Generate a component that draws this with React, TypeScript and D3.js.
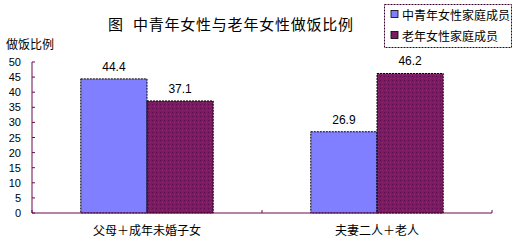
import React from "react";
import * as d3 from "d3";

const categories = ["父母＋成年未婚子女", "夫妻二人＋老人"];
const seriesNames = ["中青年女性家庭成员", "老年女性家庭成员"];
const youngValues = [44.4, 26.9];
const oldValues = [37.1, 46.2];
const yTicks = [0, 5, 10, 15, 20, 25, 30, 35, 40, 45, 50];
const titleMark = "图";
const titleText = "中青年女性与老年女性做饭比例";
const yAxisTitle = "做饭比例";

const W = 513;
const H = 247;
const plot = { left: 32, right: 492, top: 62, bottom: 213 };
const colors = ["#7f7fff", "#7b1b60"];
const axisColor = "#6a0a50";
const cjk = "'Noto Sans CJK SC', 'Noto Sans', sans-serif";
const num = "'Liberation Sans', Arial, sans-serif";

export default function App() {
  const x = d3.scaleBand<string>().domain(categories).range([plot.left, plot.right]).paddingInner(0).paddingOuter(0);
  const xs = d3.scaleBand<string>().domain(seriesNames).range([0, x.bandwidth()]).paddingInner(0).paddingOuter(0.737);
  const y = d3.scaleLinear().domain([0, 50]).range([plot.bottom, plot.top]);
  const series = [youngValues, oldValues];
  const xTickPos = [...categories.map((c) => x(c) as number), plot.right];

  return (
    <svg width={W} height={H} style={{ position: "absolute", left: 0, top: 0, background: "#fff" }}>
      <defs>
        <pattern id="dots" width="4" height="4" patternUnits="userSpaceOnUse">
          <rect width="4" height="4" fill={colors[1]} />
          <rect x="0" y="0" width="1" height="1" fill="#5c0a52" />
          <rect x="2" y="2" width="1" height="1" fill="#8e2a70" />
        </pattern>
      </defs>
      {/* title */}
      <text x={108} y={23} dominantBaseline="central" fontFamily={cjk} fontSize={15} fill="#000">{titleMark}</text>
      <text x={133} y={23} dominantBaseline="central" fontFamily={cjk} fontSize={15} fill="#000" textLength={220}>{titleText}</text>
      {/* y axis title */}
      <text x={6} y={43} dominantBaseline="central" fontFamily={cjk} fontSize={12} fill="#000">{yAxisTitle}</text>
      {/* bars */}
      {categories.map((c, ci) =>
        seriesNames.map((s, si) => {
          const v = series[si][ci];
          const bx = (x(c) as number) + (xs(s) as number);
          return (
            <g key={c + s}>
              <rect x={bx} y={y(v)} width={xs.bandwidth()} height={y(0) - y(v)}
                fill={si === 0 ? colors[0] : "url(#dots)"} stroke="#000" strokeWidth={1} strokeDasharray="2,1" />
              <text x={bx + xs.bandwidth() / 2} y={y(v) - 12} textAnchor="middle" dominantBaseline="central"
                fontFamily={num} fontSize={12} fill="#000">{v.toFixed(1)}</text>
            </g>
          );
        })
      )}
      {/* y axis */}
      <line x1={plot.left} x2={plot.left} y1={plot.top} y2={plot.bottom} stroke={axisColor} strokeWidth={1} />
      {yTicks.map((t) => (
        <g key={t}>
          <line x1={plot.left} x2={plot.left + 3} y1={y(t)} y2={y(t)} stroke={axisColor} />
          <text x={21} y={y(t)} textAnchor="end" dominantBaseline="central" fontFamily={num} fontSize={11} fill="#000">{t}</text>
        </g>
      ))}
      {/* x axis */}
      <line x1={plot.left} x2={plot.right} y1={plot.bottom} y2={plot.bottom} stroke={axisColor} strokeWidth={1} />
      {xTickPos.map((p, i) => (
        <line key={i} x1={p} x2={p} y1={plot.bottom} y2={plot.bottom - 3} stroke={axisColor} />
      ))}
      {categories.map((c) => (
        <text key={c} x={(x(c) as number) + x.bandwidth() / 2} y={229} textAnchor="middle" dominantBaseline="central"
          fontFamily={cjk} fontSize={12} fill="#000">{c}</text>
      ))}
      {/* legend */}
      <rect x={384.5} y={4.5} width={127} height={43} fill="#fff" stroke="#3a0030" strokeDasharray="2,1" />
      {seriesNames.map((s, i) => (
        <g key={s}>
          <rect x={391} y={(i === 0 ? 14 : 35) - 3.5} width={7} height={7} fill={colors[i]} stroke="#000" strokeWidth={0.8} />
          <text x={402} y={i === 0 ? 14 : 35} dominantBaseline="central" fontFamily={cjk} fontSize={12} fill="#000">{s}</text>
        </g>
      ))}
    </svg>
  );
}
